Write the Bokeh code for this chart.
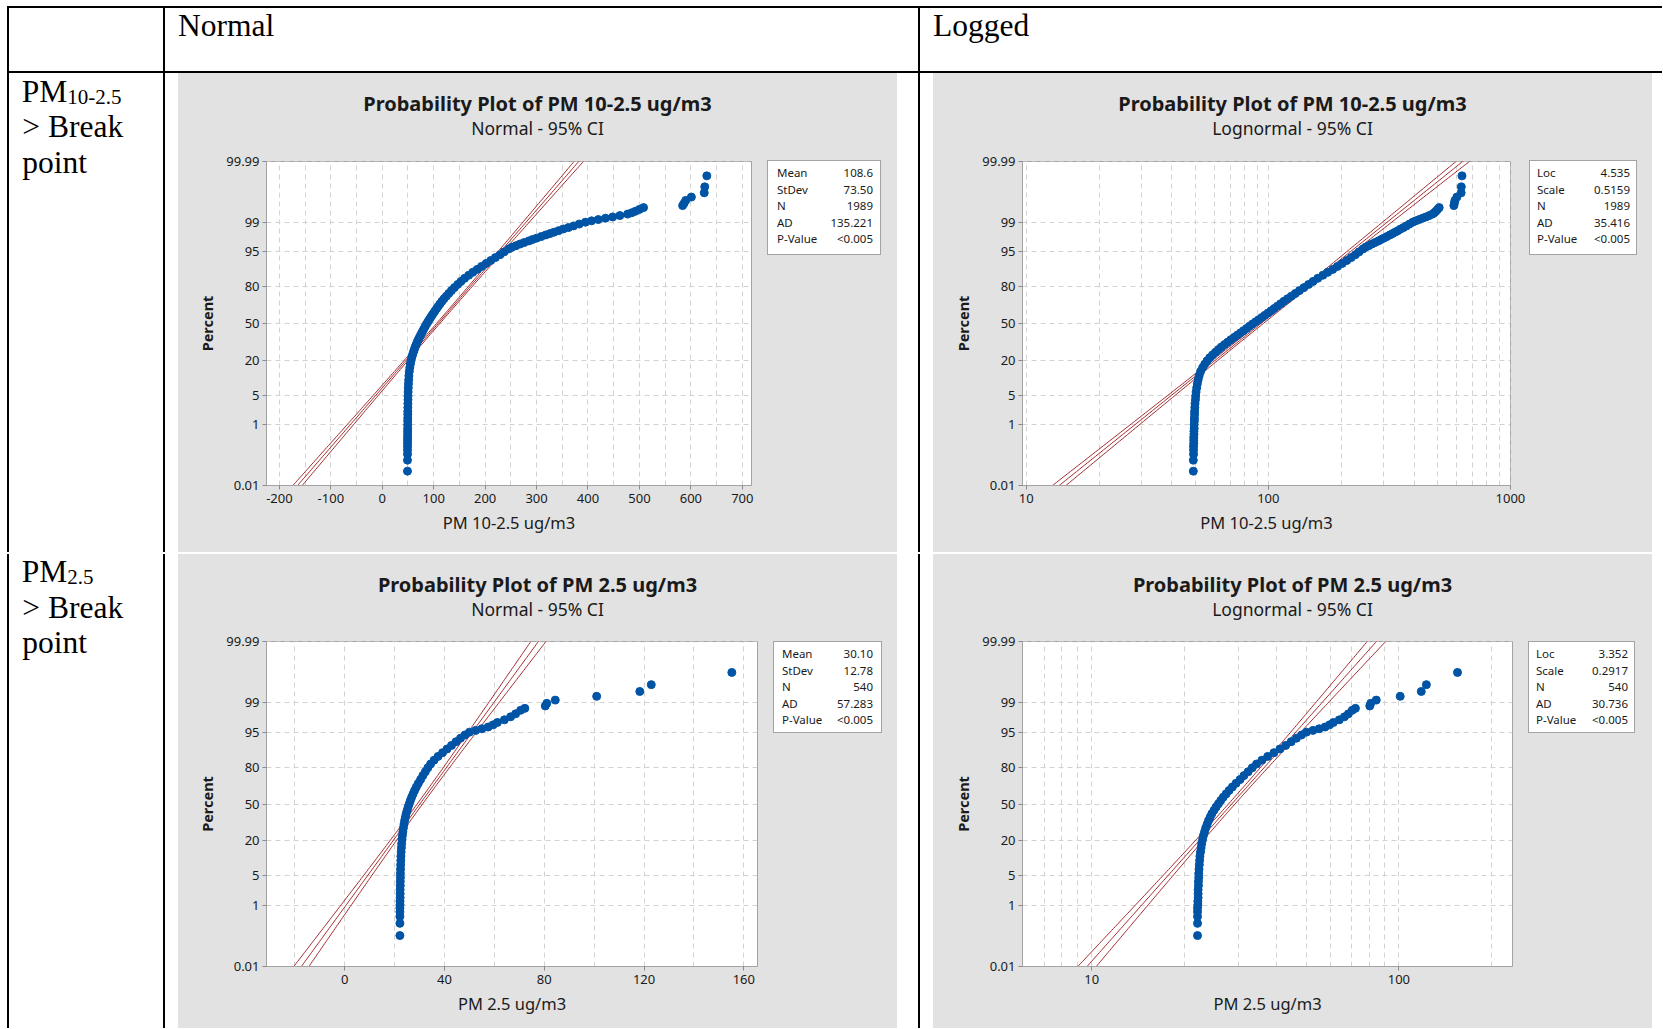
import math
import html
from statistics import NormalDist
from bokeh.plotting import figure
from bokeh.models import Range1d, FixedTicker, Div
from bokeh.layouts import row, column
from bokeh.embed import file_html
from bokeh.resources import INLINE

# ---------------- data ----------------
pm10_percent = [0.035, 0.085, 0.135, 0.185, 0.24, 0.30, 0.37, 0.45, 0.55, 0.67, 0.80, 1.0, 1.25, 1.5,
                1.85, 2.2, 2.7, 3.3, 4.0, 4.8, 5.8, 7.0, 8.3, 9.8, 11.5, 13.5, 15.5, 17.5, 19.5, 21.5,
                23.5, 25.5, 27.5, 29.5, 31.5, 33.5, 35.5, 37.5, 39.5, 41.5, 43.5, 45.5, 47.5, 49.5, 51.5,
                53.5, 55.5, 57.5, 59.5, 61.5, 63.5, 65.5, 67.5, 69.5, 71.5, 73.5, 75.5, 77.5, 79.5, 81.5,
                83.3, 85.0, 86.6, 88.0, 89.3, 90.5, 91.6, 92.6, 93.5, 94.3, 95.0, 95.65, 96.0, 96.3, 96.6,
                96.85, 97.1, 97.3, 97.5, 97.7, 97.9, 98.05, 98.2, 98.35, 98.5, 98.62, 98.75, 98.88, 99.0,
                99.08, 99.15, 99.22, 99.28, 99.34, 99.40, 99.45, 99.5, 99.56, 99.61, 99.66, 99.714, 99.765,
                99.815, 99.865, 99.915, 99.965]
pm10_values = [49.0, 49.0, 49.1, 49.1, 49.1, 49.2, 49.2, 49.2, 49.3, 49.3, 49.4, 49.4, 49.5, 49.5,
               49.6, 49.6, 49.7, 49.8, 50.0, 50.1, 50.3, 50.6, 50.9, 51.3, 51.8, 52.5, 53.5, 54.6, 55.8, 57.2,
               58.8, 60.5, 62.3, 64.0, 66.0, 68.0, 70.0, 72.2, 74.5, 76.8, 79.0, 81.3, 83.6, 86.0, 88.6,
               91.2, 94.0, 96.8, 99.7, 102.7, 105.8, 109.0, 112.4, 116.0, 120.0, 124.5, 129.3, 134.5, 140.3, 146.6,
               153.0, 160.0, 168.0, 176.0, 184.5, 193.0, 202.0, 211.0, 220.0, 229.0, 237.0, 246, 252, 260, 268,
               276, 285, 292, 300, 309, 318, 326, 334, 343, 352, 362, 372, 383, 395,
               407, 420, 434, 448, 462, 477, 485, 492, 500, 508, 584, 587, 590,
               601, 626, 627, 631]

pm25_percent = [0.13, 0.315, 0.50, 0.68, 0.87, 1.05, 1.3, 1.6, 2.0, 2.5, 3.1, 3.8, 4.6, 5.6, 6.8, 8.2,
                9.8, 11.6, 13.6, 15.8, 18.2, 20.8, 23.5, 26.3, 29.2, 32.2, 35.2, 38.2, 41.2, 44.2, 47.2,
                50.2, 53.2, 56.2, 59.2, 62.2, 65.2, 68.2, 71.2, 74.2, 77.0, 79.6, 82.0, 84.2, 86.2, 88.0,
                89.6, 91.0, 92.3, 93.4, 94.3, 95.0, 95.4, 95.75, 96.1, 96.5, 96.9, 97.3, 97.7, 98.05, 98.4,
                98.57, 98.76, 98.94, 99.13, 99.315, 99.50, 99.685, 99.87]
pm25_values = [22.1, 22.1, 22.1, 22.1, 22.1, 22.15, 22.15, 22.2, 22.2, 22.2, 22.25, 22.25, 22.3, 22.3, 22.35, 22.4,
               22.45, 22.5, 22.6, 22.7, 22.8, 22.95, 23.1, 23.3, 23.5, 23.75, 24.0, 24.3, 24.6, 25.0, 25.4,
               25.85, 26.3, 26.8, 27.4, 28.0, 28.7, 29.5, 30.4, 31.3, 32.3, 33.3, 34.4, 35.8, 37.4, 39.2,
               41.0, 42.8, 44.6, 46.4, 48.2, 50.0, 52.5, 55.0, 57.5, 59.5, 61.2, 64.0, 66.5, 68.5, 70.5,
               72.2, 80.4, 81.0, 84.4, 101.0, 118.3, 122.9, 155.2]

# fitted parameters shown in the legends
pm10_normal_fit = [108.6, 73.50, 1989]
pm10_lognormal_fit = [4.535, 0.5159, 1989]
pm25_normal_fit = [30.10, 12.78, 540]
pm25_lognormal_fit = [3.352, 0.2917, 540]

normal_stat_names = ["Mean", "StDev", "N", "AD", "P-Value"]
lognormal_stat_names = ["Loc", "Scale", "N", "AD", "P-Value"]
pm10_normal_stats = ["108.6", "73.50", "1989", "135.221", "<0.005"]
pm10_lognormal_stats = ["4.535", "0.5159", "1989", "35.416", "<0.005"]
pm25_normal_stats = ["30.10", "12.78", "540", "57.283", "<0.005"]
pm25_lognormal_stats = ["3.352", "0.2917", "540", "30.736", "<0.005"]

percent_ticks = [0.01, 1, 5, 20, 50, 80, 95, 99, 99.99]
percent_tick_labels = ["0.01", "1", "5", "20", "50", "80", "95", "99", "99.99"]

pm10_normal_xticks = [-200, -100, 0, 100, 200, 300, 400, 500, 600, 700]
pm10_normal_xminor = [-150, -50, 50, 150, 250, 350, 450, 550, 650]
pm10_log_xticks = [10, 100, 1000]
pm10_log_xminor = [20, 30, 40, 50, 60, 70, 80, 90, 200, 300, 400, 500, 600, 700, 800, 900]
pm25_normal_xticks = [0, 40, 80, 120, 160]
pm25_normal_xminor = [-20, 20, 60, 100, 140]
pm25_log_xticks = [10, 100]
pm25_log_xminor = [7, 8, 9, 20, 30, 40, 50, 60, 70, 80, 90, 200]

# ---------------- styling ----------------
PANEL = "#e2e2e2"
FRAME = "#a3a3a3"
GRID = "#d2d2d2"
BLUE = "#0054a6"
RED = "#a32b2e"
TXT = "#1a1a1a"
SANS = "Noto Sans"
SERIF = "Liberation Serif"
nd = NormalDist()
ZR = 3.7195
TITLE_H = 70


def fstyle(font, size, weight="normal"):
    return "font-family:'%s';font-size:%spx;font-weight:%s" % (font, size, weight)


def svg_text(x, y, s, font, size, weight="normal", anchor="start", fill="#000"):
    return ('<text x="%s" y="%s" style="%s" text-anchor="%s" fill="%s">%s</text>'
            % (x, y, fstyle(font, size, weight), anchor, fill, html.escape(s)))


def svg_rect(x, y, w, h, fill, stroke=None):
    st = ' stroke="%s" stroke-width="1"' % stroke if stroke else ""
    return '<rect x="%s" y="%s" width="%s" height="%s" fill="%s"%s/>' % (x, y, w, h, fill, st)


def svg_div(w, h, inner, bg="white"):
    s = ('<svg xmlns="http://www.w3.org/2000/svg" width="%d" height="%d" style="display:block">'
         % (w, h)) + svg_rect(0, 0, w, h, bg) + inner + "</svg>"
    return Div(text=s, width=w, height=h, margin=0,
               styles={"background-color": bg, "overflow": "hidden"})


def prob_panel(H, frame, fig_w, xr, log, xticks, xminor, title, subtitle, xlabel,
               xs, pcts, fit, kind, names, vals, box, name_x, val_x):
    W = 719
    fl, ft, fr, fb = frame
    fig_h = H - TITLE_H
    p = figure(width=fig_w, height=fig_h, x_range=Range1d(*xr), y_range=Range1d(-ZR, ZR),
               x_axis_type="log" if log else "linear",
               output_backend="svg", toolbar_location=None, title=None,
               min_border_left=fl, min_border_right=fig_w - fr, min_border_top=ft - TITLE_H,
               min_border_bottom=fig_h - (fb - TITLE_H), background_fill_color="white",
               border_fill_color=PANEL, outline_line_color=FRAME)

    zt = [nd.inv_cdf(v / 100) for v in percent_ticks]
    p.yaxis.ticker = FixedTicker(ticks=zt)
    p.yaxis.major_label_overrides = {z: s for z, s in zip(zt, percent_tick_labels)}
    p.xaxis.ticker = FixedTicker(ticks=xticks, minor_ticks=xminor)
    p.xaxis.major_label_overrides = {t: str(t) for t in xticks}
    for ax in (p.xaxis, p.yaxis):
        ax.axis_line_color = FRAME
        ax.major_tick_line_color = "#8a8a8a"
        ax.major_tick_out = 4
        ax.major_tick_in = 0
        ax.minor_tick_out = 0
        ax.minor_tick_in = 0
        ax.major_label_text_font = SANS
        ax.major_label_text_font_size = "13px"
        ax.major_label_text_color = TXT
        ax.axis_label_text_font = SANS
        ax.axis_label_text_color = TXT
    p.yaxis.major_label_standoff = 3
    p.xaxis.major_label_standoff = 4
    p.yaxis.axis_label = "Percent"
    p.yaxis.axis_label_text_font_style = "bold"
    p.yaxis.axis_label_text_font_size = "14.5px"
    p.yaxis.axis_label_standoff = 6
    p.xaxis.axis_label = xlabel
    p.xaxis.axis_label_text_font_style = "normal"
    p.xaxis.axis_label_text_font_size = "16.5px"
    p.xaxis.axis_label_standoff = 5

    for g in (p.xgrid, p.ygrid):
        g.grid_line_color = GRID
        g.grid_line_dash = "5 4"
    p.xgrid.minor_grid_line_color = GRID
    p.xgrid.minor_grid_line_dash = "5 4"

    # fitted line with 95% CI (from the legend parameters)
    loc, scale, n = fit
    zz = [-4.4 + 0.05 * i for i in range(177)]
    for sgn in (-1, 0, 1):
        xx = []
        for z in zz:
            c = loc + scale * z + sgn * 1.96 * scale * math.sqrt(1.0 / n + z * z / (2.0 * n))
            xx.append(math.exp(c) if kind == "lognormal" else c)
        p.line(xx, zz, line_color=RED, line_width=1)

    zs = [nd.inv_cdf(v / 100) for v in pcts]
    p.scatter(xs, zs, size=8, marker="circle", fill_color=BLUE, line_color=BLUE)

    # title block
    tdiv = svg_div(W, TITLE_H,
                   svg_text(W / 2, 38, title, SANS, 20, "bold", "middle", TXT) +
                   svg_text(W / 2, 62, subtitle, SANS, 17.5, "normal", "middle", TXT), PANEL)
    # legend block
    lw = W - fig_w
    bl, bt, br, bb = box
    inner = svg_rect(bl - fig_w + 0.5, bt - TITLE_H + 0.5, br - bl, bb - bt, "white", FRAME)
    for i, (nm, vv) in enumerate(zip(names, vals)):
        by = 34 + 16.6 * i
        inner += svg_text(name_x - fig_w, by, nm, SANS, 11.5, "normal", "start", TXT)
        inner += svg_text(val_x - fig_w, by, vv, SANS, 11.5, "normal", "end", TXT)
    ldiv = svg_div(lw, fig_h, inner, PANEL)
    bg = {"background-color": PANEL}
    return column(tdiv, row(p, ldiv, styles=bg), styles=bg)


# ---------------- panels ----------------
p1 = prob_panel(479, (88, 88, 573, 412), 588, (-225.1, 717.9), False,
                pm10_normal_xticks, pm10_normal_xminor,
                "Probability Plot of PM 10-2.5 ug/m3", "Normal - 95% CI", "PM 10-2.5 ug/m3",
                pm10_values, pm10_percent, pm10_normal_fit, "normal",
                normal_stat_names, pm10_normal_stats, (589, 87, 702, 181), 599, 695)
p2 = prob_panel(479, (89, 88, 577, 412), 592, (9.65, 1001), True,
                pm10_log_xticks, pm10_log_xminor,
                "Probability Plot of PM 10-2.5 ug/m3", "Lognormal - 95% CI", "PM 10-2.5 ug/m3",
                pm10_values, pm10_percent, pm10_lognormal_fit, "lognormal",
                lognormal_stat_names, pm10_lognormal_stats, (596, 87, 703, 181), 604, 697)
p3 = prob_panel(474, (88, 87, 579, 412), 594, (-31.4, 165.5), False,
                pm25_normal_xticks, pm25_normal_xminor,
                "Probability Plot of PM 2.5 ug/m3", "Normal - 95% CI", "PM 2.5 ug/m3",
                pm25_values, pm25_percent, pm25_normal_fit, "normal",
                normal_stat_names, pm25_normal_stats, (595, 87, 703, 178), 604, 695)
p4 = prob_panel(474, (89, 87, 579, 412), 594, (5.95, 234.4), True,
                pm25_log_xticks, pm25_log_xminor,
                "Probability Plot of PM 2.5 ug/m3", "Lognormal - 95% CI", "PM 2.5 ug/m3",
                pm25_values, pm25_percent, pm25_lognormal_fit, "lognormal",
                lognormal_stat_names, pm25_lognormal_stats, (595, 87, 701, 178), 603, 695)

# ---------------- table around the panels ----------------
K = "#000"
BIG = 31.5


def row_label(h, sub, y0):
    t = ('<text x="21.7" y="%s" style="%s" fill="#000">PM'
         '<tspan style="%s" dy="1.8">%s</tspan></text>'
         % (y0, fstyle(SERIF, BIG), fstyle(SERIF, 21), html.escape(sub)))
    t += svg_text(22.3, y0 + 35.5, "> Break", SERIF, BIG)
    t += svg_text(22.3, y0 + 71, "point", SERIF, BIG)
    return svg_div(178, h, svg_rect(7, 0, 2, h, K) + svg_rect(163, 0, 2, h, K) + t)


header = svg_div(1662, 73,
                 svg_rect(7, 6, 1655, 2, K) + svg_rect(7, 6, 2, 67, K) +
                 svg_rect(163, 6, 2, 67, K) + svg_rect(918, 6, 2, 67, K) +
                 svg_rect(7, 71, 1655, 2, K) +
                 svg_text(178, 36, "Normal", SERIF, BIG) + svg_text(933, 36, "Logged", SERIF, BIG))

row1 = row(row_label(479, "10-2.5", 28.7), p1, svg_div(36, 479, svg_rect(21, 0, 2, 479, K)),
           p2, svg_div(10, 479, ""))
divider = svg_div(1662, 2, svg_rect(7, 0, 171, 2, K) + svg_rect(178, 0, 719, 2, "#c9c9c9") +
                  svg_rect(897, 0, 36, 2, K) + svg_rect(933, 0, 719, 2, "#c9c9c9") +
                  svg_rect(1652, 0, 10, 2, K))
row2 = row(row_label(474, "2.5", 28.2), p3, svg_div(36, 474, svg_rect(21, 0, 2, 474, K)),
           p4, svg_div(10, 474, ""))
layout = column(header, row1, divider, row2)

open("out.html", "w").write(file_html(layout, INLINE))
